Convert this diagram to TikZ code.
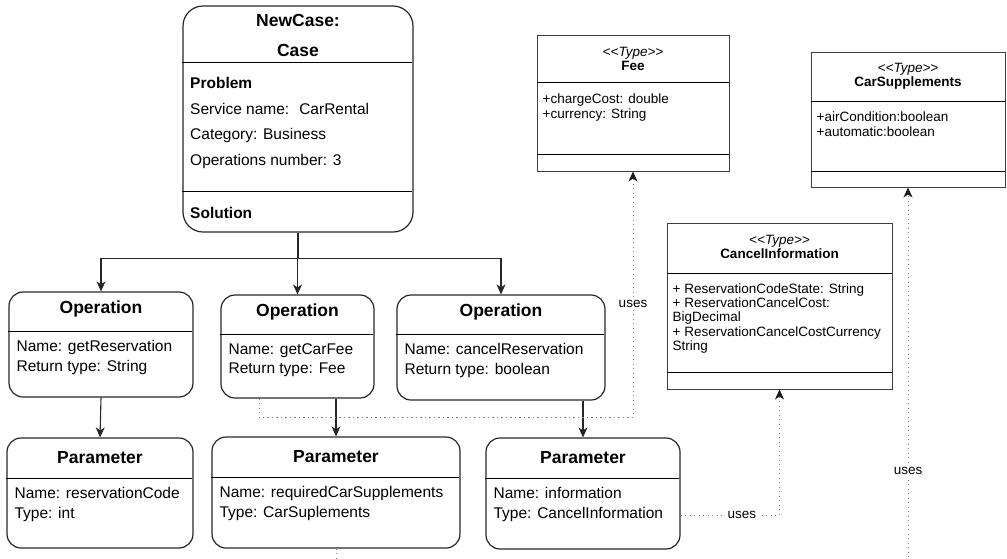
\documentclass[tikz,border=0pt]{standalone}
\usepackage{fontspec}
\setmainfont{Liberation Sans}
\usetikzlibrary{arrows.meta,calc}

\begin{document}
\begin{tikzpicture}[
		x=1pt, y=-1pt,
		casebox/.style = {draw=black!85, line width=1.2pt, rounded corners=20pt},
		box/.style = {draw=black!85, line width=1.2pt, rounded corners=14pt},
		typebox/.style = {draw=black!75, line width=1pt},
		head/.style = {font=\fontsize{17.5}{30}\selectfont\bfseries, align=center, inner sep=0pt},
		body/.style = {font=\fontsize{15.5}{19.5}\selectfont, align=left, anchor=west, inner sep=0pt},
		stereo/.style = {font=\fontsize{13.5}{14}\selectfont, align=center, inner sep=0pt},
		attr/.style = {font=\fontsize{13.5}{15}\selectfont, align=left, anchor=west, inner sep=0pt},
		link/.style = {draw=black!85, line width=1.1pt, -{Stealth[length=10pt,width=9pt,inset=3pt]}},
		usesline/.style = {draw=black!50, line width=1pt, dash pattern=on 1.1pt off 3.4pt,
			-{Stealth[length=10pt,width=9pt,inset=3pt,color=black!90]}},
		useslabel/.style = {fill=white, font=\fontsize{13.5}{15}\selectfont, inner sep=1.5pt}
	]
	\useasboundingbox (0,0) rectangle (1007,558);

	% the case
	\node[casebox, minimum width=230pt, minimum height=226pt] (case) at (298,119) {};
	\node[head] at (298,35) {NewCase:\\Case};
	\draw[line width=1pt] (case.north west) ++(0,57) -- ++(230,0);
	\node[body, font=\fontsize{15.5}{25.5}\selectfont] at (190,123)
		{\textbf{Problem}\\Service name:~ CarRental\\Category: Business\\Operations number: 3};
	\draw[line width=1pt] (case.north west) ++(0,186) -- ++(230,0);
	\node[body] at (190,213) {\textbf{Solution}};

	% operations
	\node[box, minimum width=184pt, minimum height=105pt] (op1) at (101,344.5) {};
	\node[head] at ($(op1.north)+(0,18)$) {Operation};
	\draw[line width=1pt] (op1.north west) ++(0,40) -- ++(184,0);
	\node[body] at ($(op1.north west)+(8,66)$) {Name: getReservation\\Return type: String};

	\node[box, minimum width=153pt, minimum height=103pt] (op2) at (297.5,346.5) {};
	\node[head] at ($(op2.north)+(0,18)$) {Operation};
	\draw[line width=1pt] (op2.north west) ++(0,40) -- ++(153,0);
	\node[body] at ($(op2.north west)+(8,66)$) {Name: getCarFee\\Return type: Fee};

	\node[box, minimum width=208pt, minimum height=105pt] (op3) at (501,347.5) {};
	\node[head] at ($(op3.north)+(0,18)$) {Operation};
	\draw[line width=1pt] (op3.north west) ++(0,40) -- ++(208,0);
	\node[body] at ($(op3.north west)+(8,66)$) {Name: cancelReservation\\Return type: boolean};

	% parameters
	\node[box, minimum width=186pt, minimum height=110pt] (p1) at (100,493) {};
	\node[head] at ($(p1.north)+(0,20)$) {Parameter};
	\draw[line width=1pt] (p1.north west) ++(0,41) -- ++(186,0);
	\node[body] at ($(p1.north west)+(8,67)$) {Name: reservationCode\\Type: int};

	\node[box, minimum width=248pt, minimum height=111pt] (p2) at (336,492.5) {};
	\node[head] at ($(p2.north)+(0,20)$) {Parameter};
	\draw[line width=1pt] (p2.north west) ++(0,41) -- ++(248,0);
	\node[body] at ($(p2.north west)+(8,67)$) {Name: requiredCarSupplements\\Type: CarSuplements};

	\node[box, minimum width=194pt, minimum height=111pt] (p3) at (583,493.5) {};
	\node[head] at ($(p3.north)+(0,20)$) {Parameter};
	\draw[line width=1pt] (p3.north west) ++(0,41) -- ++(194,0);
	\node[body] at ($(p3.north west)+(8,67)$) {Name: information\\Type: CancelInformation};

	% types
	\node[typebox, minimum width=192pt, minimum height=136pt] (fee) at (633,103) {};
	\node[stereo] at ($(fee.north)+(0,24)$) {\textit{<\kern0pt<Type>\kern0pt>}\\\textbf{Fee}};
	\draw[line width=1pt] (fee.north west) ++(0,48) -- ++(192,0);
	\draw[line width=1pt] (fee.north west) ++(0,120) -- ++(192,0);
	\node[attr] at ($(fee.north west)+(6,73.5)$) {+chargeCost: double\\+currency: String};

	\node[typebox, minimum width=194pt, minimum height=135pt] (carsupp) at (908,119.5) {};
	\node[stereo] at ($(carsupp.north)+(0,24.5)$) {\textit{<\kern0pt<Type>\kern0pt>}\\\textbf{CarSupplements}};
	\draw[line width=1pt] (carsupp.north west) ++(0,50) -- ++(194,0);
	\draw[line width=1pt] (carsupp.north west) ++(0,120) -- ++(194,0);
	\node[attr] at ($(carsupp.north west)+(6,72.5)$) {+airCondition:boolean\\+automatic:boolean};

	\node[typebox, minimum width=225pt, minimum height=166pt] (cancel) at (779.5,306) {};
	\node[stereo] at ($(cancel.north)+(0,24.5)$) {\textit{<\kern0pt<Type>\kern0pt>}\\\textbf{CancelInformation}};
	\draw[line width=1pt] (cancel.north west) ++(0,51) -- ++(225,0);
	\draw[line width=1pt] (cancel.north west) ++(0,150) -- ++(225,0);
	\node[attr, font=\fontsize{13.5}{14.3}\selectfont] at ($(cancel.north west)+(6,96)$)
		{+ ReservationCodeState: String\\+ ReservationCancelCost:\\BigDecimal\\+ ReservationCancelCostCurrency\\String};

	% structure
	\draw[link] (case.south) -- ++(0,26) -| (op1.north);
	\draw[link] (case.south) -- ++(0,26) -| (op2.north);
	\draw[link] (case.south) -- ++(0,26) -| (op3.north);
	\draw[link] (op1.south) -- (p1.north);
	\draw[link] (p2.north |- op2.south) -- (p2.north);
	\draw[link] (p3.north |- op3.south) -- (p3.north);

	% uses
	\coordinate (feeout) at ($(op2.south west)+(39,0)$);
	\draw[usesline] (feeout) -- ++(0,19) -| node[pos=0.73, useslabel] {uses} (fee.south);
	\draw[usesline] ($(p3.east)+(0,21.5)$) -| node[pos=0.31, useslabel] {uses} (cancel.south);
	\draw[usesline] (p2.south) -- ++(0,40) -| node[pos=0.647, useslabel] {uses} (carsupp.south);
\end{tikzpicture}
\end{document}
